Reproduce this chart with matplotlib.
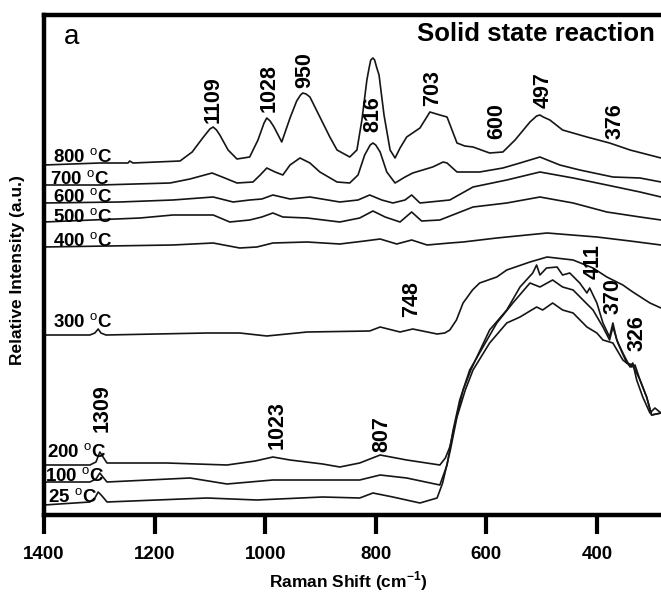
import matplotlib
matplotlib.use('Agg')
import matplotlib.pyplot as plt

plt.rcParams['font.family'] = ['Liberation Sans', 'DejaVu Sans']
plt.rcParams['mathtext.fontset'] = 'custom'
plt.rcParams['mathtext.rm'] = 'Liberation Sans'
plt.rcParams['mathtext.bf'] = 'Liberation Sans:bold'

# spectra: Raman shift (cm-1) and relative intensity (a.u., offset stacked)
wn_800 = [1400, 1299, 1248, 1245, 1239, 1154, 1132, 1113, 1100, 1094, 1088, 1082, 1067, 1051, 1028, 1013,
          1002, 997, 991, 984, 970, 955, 943, 936, 932, 926, 919, 901, 883, 870, 847, 834, 825, 816, 812,
          809, 805, 802, 798, 794, 785, 774, 765, 756, 744, 720, 702, 684, 671, 653, 639, 624, 594, 570,
          548, 521, 509, 503, 497, 485, 462, 418, 377, 340, 284]
int_800 = [350, 352, 352, 354, 352, 354, 363, 377, 386, 388, 385, 380, 365, 356, 358, 375,
           392, 397, 394, 388, 373, 397, 414, 420, 422, 421, 418, 398, 378, 365, 358, 365, 395, 435, 447,
           455, 457, 455, 447, 440, 400, 365, 357, 367, 378, 387, 403, 400, 398, 372, 369, 368, 362, 363,
           375, 393, 399, 400, 398, 395, 385, 378, 372, 365, 357]

wn_700 = [1400, 1299, 1172, 1136, 1096, 1073, 1051, 1022, 1009, 997, 982, 968, 955, 937, 919, 901, 870,
          847, 832, 820, 810, 805, 800, 792, 780, 765, 747, 733, 697, 678, 671, 653, 612, 570, 539, 503,
          467, 431, 371, 322, 284]
int_700 = [330, 330, 332, 336, 342, 337, 332, 333, 340, 347, 343, 340, 350, 357, 352, 343, 333,
           332, 340, 360, 370, 372, 370, 363, 343, 332, 338, 342, 348, 353, 352, 343, 343, 347, 352, 358,
           350, 345, 338, 337, 333]

wn_600 = [1400, 1263, 1167, 1094, 1058, 1028, 1006, 986, 955, 919, 865, 832, 811, 789, 769, 747, 735,
          720, 666, 624, 563, 503, 443, 382, 322, 284]
int_600 = [312, 313, 315, 318, 313, 315, 316, 320, 316, 318, 313, 315, 320, 315, 312, 315, 320,
           312, 315, 328, 335, 343, 337, 330, 323, 318]

wn_500 = [1400, 1226, 1167, 1094, 1064, 1028, 1006, 986, 968, 924, 865, 829, 805, 783, 756, 735, 717,
          684, 624, 563, 503, 443, 382, 322, 284]
int_500 = [293, 297, 300, 300, 293, 295, 298, 302, 298, 297, 293, 297, 304, 298, 293, 303, 294,
           295, 308, 312, 318, 312, 303, 298, 295]

wn_400 = [1400, 1167, 1094, 1046, 1015, 986, 924, 865, 820, 792, 762, 735, 707, 666, 642, 581, 490,
          400, 340, 284]
int_400 = [268, 270, 272, 267, 268, 272, 273, 271, 274, 276, 271, 275, 270, 272, 273, 277, 282,
           278, 274, 270]

wn_300 = [1400, 1317, 1308, 1302, 1297, 1288, 1105, 1046, 997, 924, 811, 792, 756, 733, 689, 675, 666,
          654, 642, 625, 612, 581, 563, 521, 490, 443, 407, 382, 353, 335, 304, 284]
int_300 = [180, 180, 182, 186, 182, 180, 182, 182, 179, 183, 184, 188, 183, 186, 181, 182, 185,
           195, 212, 225, 232, 238, 245, 253, 258, 255, 247, 238, 230, 223, 212, 207]

wn_200 = [1400, 1317, 1306, 1299, 1292, 1286, 1178, 1069, 1018, 986, 955, 896, 865, 829, 792, 744, 684,
          674, 666, 655, 642, 628, 617, 594, 563, 539, 516, 509, 503, 491, 472, 462, 449, 431, 418, 413,
          400, 389, 377, 371, 364, 353, 340, 335, 328, 317, 304, 295, 284]
int_200 = [50, 50, 53, 63, 57, 52, 52, 50, 54, 58, 55, 51, 48, 52, 60, 55, 50,
           57, 68, 95, 125, 145, 158, 185, 205, 228, 242, 250, 240, 247, 248, 240, 242, 232, 222, 227,
           212, 192, 178, 192, 175, 162, 148, 152, 135, 118, 102, 107, 102]

wn_100 = [1400, 1317, 1306, 1299, 1292, 1286, 1136, 1069, 986, 829, 792, 744, 684, 671, 660, 648, 630,
          606, 581, 552, 521, 503, 480, 462, 443, 425, 407, 389, 377, 371, 362, 346, 335, 322, 310, 301,
          284]
int_100 = [33, 33, 36, 42, 37, 33, 37, 31, 35, 35, 40, 37, 30, 50, 85, 115, 145,
           168, 192, 212, 232, 228, 235, 228, 225, 215, 205, 188, 175, 188, 172, 152, 150, 135, 118, 100,
           102]

wn_25 = [1400, 1317, 1308, 1302, 1295, 1286, 1196, 1105, 1015, 896, 829, 805, 769, 720, 689, 679, 665,
         653, 638, 624, 594, 563, 539, 509, 498, 480, 462, 443, 418, 400, 389, 371, 353, 337, 331, 322,
         310, 301, 284]
int_25 = [10, 13, 17, 23, 19, 13, 15, 17, 15, 18, 17, 22, 18, 12, 17, 32, 65,
          98, 125, 145, 172, 192, 198, 208, 205, 212, 205, 202, 188, 182, 175, 172, 155, 148, 150, 135,
          118, 100, 102]

temps = ['800', '700', '600', '500', '400', '300', '200', '100', '25']
label_x = [1384, 1389, 1384, 1384, 1384, 1384, 1395, 1398, 1393]
label_y = [352, 330, 312, 292, 268, 187, 57, 33, 12]

peak_text = ['1109', '1028', '950', '816', '703', '600', '497', '376',
             '748', '411', '370', '326', '1309', '1023', '807']
peak_x = [1094, 993, 928, 805, 697, 581, 498, 367, 735, 407, 371, 328, 1295, 979, 789]
peak_y = [415, 427, 445, 401, 427, 394, 425, 394, 216, 253, 219, 182, 107, 90, 81]

fig = plt.figure(figsize=(6.61, 5.92), dpi=100)
ax = fig.add_axes([44 / 661, 77 / 592, 617 / 661, 500 / 592])

spectra = [(wn_800, int_800), (wn_700, int_700), (wn_600, int_600), (wn_500, int_500),
           (wn_400, int_400), (wn_300, int_300), (wn_200, int_200), (wn_100, int_100),
           (wn_25, int_25)]
for wn, inten in spectra:
    ax.plot(wn, inten, color='#151515', lw=1.2)

for t, x, y in zip(temps, label_x, label_y):
    ax.text(x, y, t + r' $^{\mathrm{o}}$C', fontsize=13.5, fontweight='bold',
            ha='left', va='baseline')

for t, x, y in zip(peak_text, peak_x, peak_y):
    ax.text(x, y, t, fontsize=15.5, fontweight='bold', rotation=90,
            ha='center', va='center')

ax.text(0.045, 0.955, 'a', transform=ax.transAxes, fontsize=20, ha='center', va='center')
ax.text(0.99, 0.962, 'Solid state reaction', transform=ax.transAxes, fontsize=18.5,
        fontweight='bold', ha='right', va='center')

ax.set_xlim(1400, 284)
ax.set_ylim(0, 500)
ax.set_xticks([1400, 1200, 1000, 800, 600, 400])
ax.set_yticks([])
ax.tick_params(axis='x', direction='out', length=13.5, width=3, pad=9, labelsize=13.5)
for lab in ax.get_xticklabels():
    lab.set_fontweight('bold')
for s in ['left', 'top', 'bottom']:
    ax.spines[s].set_linewidth(3.2)
ax.spines['right'].set_visible(False)

fig.text(348 / 661, 1 - 581 / 592, r'Raman Shift (cm$^{\mathbf{-1}}$)', fontsize=12.5,
         fontweight='bold', ha='center', va='center')
fig.text(18 / 661, 1 - 270 / 592, 'Relative Intensity (a.u.)', fontsize=12.5,
         fontweight='bold', rotation=90, ha='center', va='center')

fig.savefig('out.png', dpi=100)
